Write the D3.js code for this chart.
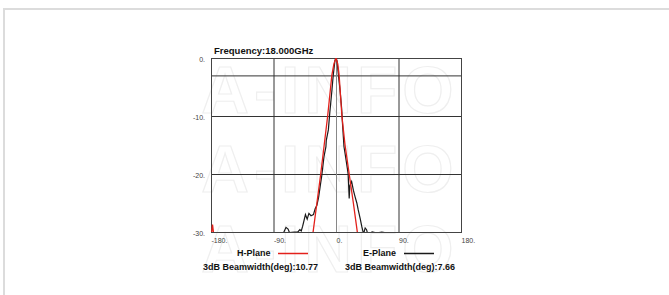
<!DOCTYPE html>
<html lang="en">
<head>
    <meta charset="UTF-8">
    <title>Frequency 18 GHz pattern</title>
    <script src="https://d3js.org/d3.v7.min.js"></script>
    <style>
        body { margin: 0; background: #fff; }
        .frame {
            position: absolute;
            left: 3px;
            top: 8px;
            width: 700px;
            height: 400px;
            border-left: 2px solid #dcdcdc;
            border-top: 2px solid #dcdcdc;
        }
        svg { position: absolute; left: 0; top: 0; }
        text { font-family: Arial, "Liberation Sans", sans-serif; }
    </style>
</head>
<body>
    <div class="frame"></div>
    <svg id="chart" width="669" height="295"></svg>

    <script>
        // H-Plane (red) pattern, angle in deg, level in dB
        const hAngles = [-180, -179, -177.8, -176.5, -175, -170, -36, -33, -27.5, -22, -17, -12, -9, -6, -3, 0, 2.5, 4.5, 6.5, 8.5, 13, 19, 25, 30.7, 33, 180];
        const hLevels = [-31, -30, -28.7, -30, -31.5, -40, -40, -30, -25, -20, -15, -10, -6.5, -3, -1, 0, -1, -3, -6.5, -10, -15, -20, -25, -30, -40, -40];

        // E-Plane (black) pattern
        const eAngles = [-180, -80, -77, -75, -72, -69, -67, -60, -55, -52, -50, -48, -46, -44, -41.5, -39, -36, -32.5, -30, -27.5, -25, -22, -20.5, -17.3, -14.5, -14, -11, -9, -6.2, -4, -1.5, 0, 1.5, 3.5, 5.8, 8, 9.6, 11.5, 13, 16.3, 17.5, 19, 20, 22.5, 25, 27.4, 30, 32, 35, 37, 39, 40, 42, 44, 46, 49, 52, 56, 58, 62, 66, 70, 72, 73, 180];
        const eLevels = [-35, -35, -31, -30, -29.2, -29.5, -30.1, -30, -30, -29.6, -29.8, -29, -28, -27, -27.8, -26.8, -27.2, -27, -26, -25.4, -24, -21.5, -20.3, -17, -15.3, -14.2, -12.4, -9.5, -6, -3, -0.4, 0, -0.5, -3, -5.5, -8.5, -11.8, -15.3, -16.4, -19, -20, -24.2, -22, -21.3, -22.8, -23.9, -25, -26.2, -27.8, -29, -30, -30.2, -29.3, -29.6, -30.5, -30.2, -30, -30.1, -31, -30.1, -30, -30.1, -31, -35, -35];

        const xTicks = [-180, -90, 0, 90, 180];
        const yTicks = [0, -10, -20, -30];
        const hGrid = [-3, -10, -20];
        const vGrid = [-90, 90];

        const svg = d3.select("#chart");
        const margin = {left: 211, top: 58};
        const width = 250, height = 174;

        // faint watermark
        const wm = svg.append("g")
            .attr("fill", "none")
            .attr("stroke", "#efefef")
            .attr("stroke-width", 1.2)
            .attr("font-size", 66)
            .attr("font-weight", "bold")
            .attr("letter-spacing", 5)
            .attr("text-anchor", "middle");
        [113, 192, 272].forEach(yy => {
            wm.append("text").attr("x", 330).attr("y", yy).text("A-INFO");
        });

        const g = svg.append("g").attr("transform", `translate(${margin.left},${margin.top})`);

        const x = d3.scaleLinear().domain([-180, 180]).range([0, width]);
        const y = d3.scaleLinear().domain([0, -30]).range([0, height]);

        g.append("defs").append("clipPath").attr("id", "clip")
            .append("rect").attr("width", width).attr("height", height);

        // grid
        g.selectAll(".hg").data(hGrid).enter().append("line")
            .attr("x1", 0).attr("x2", width)
            .attr("y1", d => y(d) + 0.5).attr("y2", d => y(d) + 0.5)
            .attr("stroke", "#333").attr("stroke-width", 1);
        g.selectAll(".vg").data(vGrid).enter().append("line")
            .attr("y1", 0).attr("y2", height)
            .attr("x1", d => x(d) + 0.5).attr("x2", d => x(d) + 0.5)
            .attr("stroke", "#333").attr("stroke-width", 1);
        g.append("line")
            .attr("y1", 0).attr("y2", height)
            .attr("x1", x(0) + 0.5).attr("x2", x(0) + 0.5)
            .attr("stroke", "#888").attr("stroke-width", 1);

        g.append("rect")
            .attr("x", 0.5).attr("y", 0.5)
            .attr("width", width).attr("height", height)
            .attr("fill", "none").attr("stroke", "#444");

        const line = d3.line().x(d => x(d[0])).y(d => y(d[1]));

        const plot = g.append("g").attr("clip-path", "url(#clip)");
        plot.append("path")
            .datum(eAngles.map((a, i) => [a, eLevels[i]]))
            .attr("d", line)
            .attr("fill", "none")
            .attr("stroke", "#1a1a1a")
            .attr("stroke-width", 1.2);
        plot.append("path")
            .datum(hAngles.map((a, i) => [a, hLevels[i]]))
            .attr("d", line)
            .attr("fill", "none")
            .attr("stroke", "#e3201b")
            .attr("stroke-width", 1.3);

        // axes labels
        const xAxis = g.append("g")
            .attr("transform", `translate(0,${height})`)
            .call(d3.axisBottom(x).tickValues(xTicks).tickSize(0).tickFormat(d => d + "."));
        xAxis.select(".domain").remove();
        xAxis.selectAll("text")
            .attr("text-anchor", "start")
            .attr("x", 0).attr("dy", 0).attr("y", 11)
            .attr("font-size", 7).attr("fill", "#444");

        const yAxis = g.append("g")
            .call(d3.axisLeft(y).tickValues(yTicks).tickSize(0).tickFormat(d => d + "."));
        yAxis.select(".domain").remove();
        yAxis.selectAll("text")
            .attr("x", -6).attr("dy", "0.6em").attr("y", -1)
            .attr("font-size", 7).attr("fill", "#444");

        // title
        svg.append("text")
            .attr("x", 214).attr("y", 54)
            .attr("font-size", 9.5).attr("font-weight", "bold")
            .attr("fill", "#111")
            .text("Frequency:18.000GHz");

        // legend
        const legend = [
            {name: "H-Plane", color: "#e3201b", bw: "3dB Beamwidth(deg):10.77", tx: 237, lx: 278, bx: 203},
            {name: "E-Plane", color: "#1a1a1a", bw: "3dB Beamwidth(deg):7.66", tx: 363, lx: 404, bx: 345}
        ];
        const lg = svg.append("g").attr("font-size", 9).attr("font-weight", "bold").attr("fill", "#111");
        legend.forEach(d => {
            lg.append("text").attr("x", d.tx).attr("y", 256).text(d.name);
            lg.append("line")
                .attr("x1", d.lx).attr("x2", d.lx + 30)
                .attr("y1", 253.5).attr("y2", 253.5)
                .attr("stroke", d.color).attr("stroke-width", 1.5);
            lg.append("text").attr("x", d.bx).attr("y", 270).text(d.bw);
        });
    </script>
</body>
</html>
